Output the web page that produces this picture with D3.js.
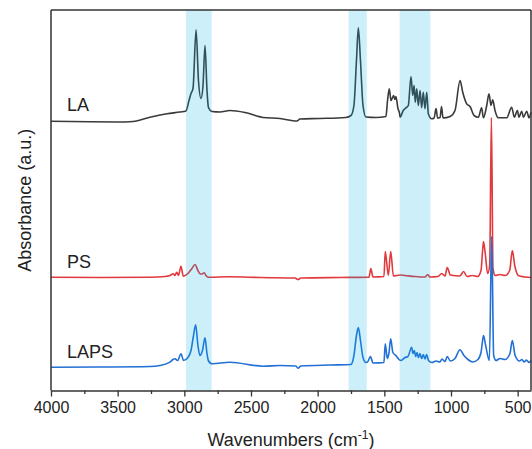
<!DOCTYPE html>
<html>
<head>
<meta charset="utf-8">
<script src="https://cdn.jsdelivr.net/npm/d3@7"></script>
<style>
  html, body { margin: 0; padding: 0; background: #fff; }
  svg { display: block; }
  text { font-family: Arial, "Liberation Sans", sans-serif; }
</style>
</head>
<body>
<svg id="chart" width="532" height="449"></svg>
<script>
// ---- data (wavenumber cm^-1, absorbance a.u. incl. vertical offset) ----
const seriesNames = ["LA", "PS", "LAPS"];
const seriesColors = ["#3a3a3a", "#e2393c", "#2270d6"];

const LA = [
  [4000,26.93],[3708,26.87],[3498,26.85],[3385,26.9],[3258,27.33],[3130,27.67],[3033,27.85],
  [2988,27.95],[2965,29.0],[2950,29.7],[2935,30.2],[2912,36.07],[2894,31.0],[2875,29.2],
  [2860,30.5],[2845,34.5],[2830,30.0],[2819,28.3],[2793,27.9],[2733,27.85],[2658,28.0],
  [2545,27.8],[2410,27.3],[2283,27.2],[2155,26.95],[2133,27.15],[1983,27.2],[1788,27.3],
  [1750,27.5],[1728,28.5],[1709,33.0],[1695,36.27],[1679,33.0],[1660,28.5],[1638,27.35],
  [1563,27.3],[1488,27.4],[1476,29.0],[1463,30.17],[1450,29.0],[1430,29.5],[1421,29.1],
  [1413,29.4],[1398,28.2],[1386,27.7],[1382,27.33],[1358,28.0],[1337,28.27],[1320,28.5],
  [1300,31.4],[1287,29.5],[1277,30.5],[1268,28.83],[1257,30.17],[1245,28.5],[1232,30.0],
  [1220,28.27],[1208,29.83],[1195,28.17],[1182,29.83],[1170,27.67],[1145,27.17],
  [1127,27.25],[1112,28.2],[1101,27.25],[1082,27.3],[1071,28.4],[1060,27.25],[1007,27.4],
  [970,28.0],[932,31.0],[912,29.83],[882,28.67],[857,28.4],[827,27.5],[795,27.33],
  [770,28.27],[757,27.27],[732,28.5],[715,29.67],[700,28.5],[687,29.07],[670,28.0],
  [645,27.27],[582,27.27],[545,28.33],[525,27.33],[502,28.0],[490,27.33],[470,27.93],
  [457,27.33],[432,27.93],[415,27.27],[400,27.83]
];

const PS = [
  [4000,11.33],[3633,11.3],[3258,11.33],[3145,11.4],[3108,11.5],[3083,11.67],[3070,11.5],
  [3057,11.83],[3044,11.5],[3025,12.43],[3008,11.43],[2973,11.7],[2943,12.2],[2920,12.6],
  [2898,12.0],[2883,11.67],[2868,11.65],[2850,11.77],[2838,11.5],[2820,11.33],[2658,11.37],
  [2433,11.3],[2170,11.25],[2148,11.1],[2125,11.25],[1833,11.3],[1615,11.33],[1601,12.2],
  [1585,11.35],[1503,11.4],[1493,13.9],[1470,11.5],[1452,13.9],[1432,11.45],[1383,11.55],
  [1345,11.5],[1270,11.4],[1195,11.35],[1175,11.6],[1158,11.35],[1098,11.4],[1069,11.7],
  [1045,11.45],[1028,12.3],[1005,11.55],[933,11.45],[906,11.9],[880,11.4],[841,11.5],
  [800,11.4],[775,12.0],[763,14.0],[756,14.9],[744,13.8],[725,11.7],[710,12.5],
  [697,27.3],[685,12.2],[668,11.5],[633,11.6],[595,11.5],[560,12.0],[540,14.0],
  [522,12.5],[495,11.5],[445,11.35],[400,11.3]
];

const LAPS = [
  [4000,2.33],[3633,2.35],[3258,2.4],[3183,2.5],[3108,2.83],[3085,3.1],[3070,3.17],
  [3051,3.0],[3025,3.67],[3006,3.0],[2973,3.3],[2950,4.0],[2931,5.5],[2915,6.57],
  [2898,4.5],[2883,3.5],[2864,4.0],[2845,5.27],[2831,3.8],[2820,3.0],[2793,2.67],
  [2658,2.83],[2410,2.43],[2283,2.5],[2163,2.45],[2148,2.23],[2125,2.45],[1908,2.55],
  [1750,2.6],[1728,3.5],[1709,5.5],[1695,6.3],[1679,5.0],[1660,3.3],[1638,2.8],
  [1623,2.9],[1604,3.4],[1585,2.75],[1503,2.8],[1493,4.67],[1478,3.2],[1466,3.7],
  [1452,5.17],[1436,3.8],[1413,3.5],[1390,3.1],[1375,3.0],[1345,3.3],[1323,3.4],
  [1295,4.33],[1285,3.7],[1275,4.0],[1265,3.4],[1255,3.8],[1244,3.3],[1233,3.7],
  [1220,3.2],[1208,3.6],[1195,3.15],[1183,3.6],[1169,3.0],[1143,2.8],[1113,2.95],
  [1083,2.85],[1068,3.15],[1045,2.9],[1028,3.4],[1005,2.95],[970,3.2],[933,4.07],
  [903,3.5],[873,3.1],[837,2.85],[798,3.1],[775,3.8],[763,5.0],[756,5.5],[740,4.5],
  [712,3.0],[695,15.4],[680,3.5],[662,3.0],[633,3.2],[595,3.1],[558,3.7],[540,5.0],
  [519,3.5],[486,2.95],[468,3.1],[452,2.85],[434,3.05],[415,2.8],[400,3.0]
];

const bands = [[2988, 2795], [1768, 1632], [1385, 1155]];
const xTicks = [4000, 3500, 3000, 2500, 2000, 1500, 1000, 500];
const xMinorTicks = [3750, 3250, 2750, 2250, 1750, 1250, 750];
const labelPos = [[3880, 28.0], [3880, 12.3], [3880, 3.3]];

// ---- layout ----
const svg = d3.select("#chart");
const mLeft = 51, mRight = 531, mTop = 10, mBottom = 390.5;

const x = d3.scaleLinear().domain([4000, 400]).range([mLeft, mRight]);
const y = d3.scaleLinear().domain([0, 38.05]).range([mBottom, mTop]);

const data = [LA, PS, LAPS];
const line = d3.line().x(d => x(d[0])).y(d => y(d[1])).curve(d3.curveMonotoneX);

const plot = svg.append("g");
data.forEach((s, i) => {
  plot.append("path")
    .datum(s)
    .attr("d", line)
    .attr("fill", "none")
    .attr("stroke", seriesColors[i])
    .attr("stroke-width", 1.6)
    .attr("stroke-linejoin", "round");
});

// shaded bands (semi-transparent, over the lines)
svg.append("g").selectAll("rect").data(bands).join("rect")
  .attr("x", d => x(d[0]))
  .attr("width", d => x(d[1]) - x(d[0]))
  .attr("y", mTop)
  .attr("height", mBottom - mTop)
  .attr("fill", "rgb(0,175,230)")
  .attr("fill-opacity", 0.2);

// series labels
svg.append("g").selectAll("text").data(seriesNames).join("text")
  .attr("x", (d, i) => x(labelPos[i][0]))
  .attr("y", (d, i) => y(labelPos[i][1]))
  .attr("font-size", 18)
  .attr("fill", "#222")
  .text(d => d);

// frame: top and right borders, left axis line
svg.append("line").attr("x1", mLeft).attr("x2", mRight).attr("y1", mTop).attr("y2", mTop)
  .attr("stroke", "#333").attr("stroke-width", 1.5);
svg.append("line").attr("x1", mRight).attr("x2", mRight).attr("y1", mTop).attr("y2", mBottom)
  .attr("stroke", "#333").attr("stroke-width", 1.5);
svg.append("line").attr("x1", mLeft).attr("x2", mLeft).attr("y1", mTop).attr("y2", mBottom)
  .attr("stroke", "#333").attr("stroke-width", 1.5);

// bottom axis
const xAxis = d3.axisBottom(x).tickValues(xTicks).tickSize(6).tickSizeOuter(0).tickPadding(5)
  .tickFormat(d3.format("d"));
const gx = svg.append("g").attr("transform", `translate(0,${mBottom})`).call(xAxis);
gx.select(".domain").attr("stroke", "#333").attr("stroke-width", 1.5);
gx.selectAll(".tick line").attr("stroke", "#333").attr("stroke-width", 1.3);
gx.selectAll(".tick text").attr("font-size", 16).attr("fill", "#222")
  .attr("font-family", "Arial, 'Liberation Sans', sans-serif");

const gxMinor = svg.append("g").attr("transform", `translate(0,${mBottom})`)
  .call(d3.axisBottom(x).tickValues(xMinorTicks).tickSize(3.5).tickFormat(""));
gxMinor.select(".domain").remove();
gxMinor.selectAll(".tick line").attr("stroke", "#333").attr("stroke-width", 1.3);

// axis titles
const xt = svg.append("text")
  .attr("x", (mLeft + mRight) / 2)
  .attr("y", 446)
  .attr("text-anchor", "middle")
  .attr("font-size", 18)
  .attr("fill", "#222");
xt.append("tspan").text("Wavenumbers (cm");
xt.append("tspan").attr("font-size", 12).attr("dy", -7).text("-1");
xt.append("tspan").attr("dy", 7).text(")");

svg.append("text")
  .attr("transform", `translate(31,${(mTop + mBottom) / 2}) rotate(-90)`)
  .attr("text-anchor", "middle")
  .attr("font-size", 18)
  .attr("fill", "#222")
  .text("Absorbance (a.u.)");
</script>
</body>
</html>
